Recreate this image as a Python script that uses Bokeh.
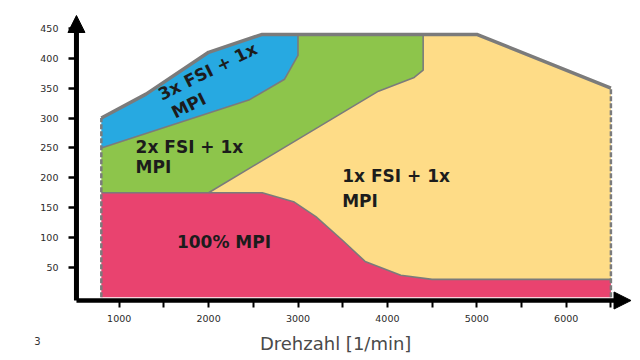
import numpy as np
from bokeh.plotting import figure
from bokeh.models import Range1d, FixedTicker, Arrow, NormalHead, Label
from bokeh.embed import file_html
from bokeh.resources import INLINE

# ---- data (rpm, value) ----
top_rpm = [800, 1300, 2000, 2600, 5000, 6500]       # outer upper limit
top_val = [300, 340, 410, 440, 440, 350]

bb_rpm = [800, 2450, 2850, 3000, 3000]              # blue / green boundary
bb_val = [250, 330, 365, 405, 440]

gy_rpm = [2000, 3900, 4300, 4400, 4400]             # green / yellow boundary
gy_val = [175, 345, 368, 380, 440]

pk_rpm = [800, 2000, 2600, 2950, 3200, 3500, 3750, 4150, 4500, 6500]   # pink upper edge
pk_val = [175, 175, 175, 160, 135, 95, 60, 37, 30, 30]

base_val = 0

y_ticks = [50, 100, 150, 200, 250, 300, 350, 400, 450]
x_ticks = [1000, 1500, 2000, 2500, 3000, 3500, 4000, 4500, 5000, 5500, 6000, 6500]
x_labels = ["1000", "", "2000", "", "3000", "", "4000", "", "5000", "", "6000", ""]

region_names = ["3x FSI + 1x", "2x FSI + 1x", "1x FSI + 1x", "100% MPI"]
region_colors = ["#27A9E1", "#8DC54B", "#FEDC87", "#E9436F"]

x_title = "Drehzahl [1/min]"
page_no = "3"

# ---- polygons built from the boundaries ----
def seg(xs, ys, lo, hi):
    return [(x, y) for x, y in zip(xs, ys) if lo < x < hi]

top = list(zip(top_rpm, top_val))
bb = list(zip(bb_rpm, bb_val))
gy = list(zip(gy_rpm, gy_val))
pk = list(zip(pk_rpm, pk_val))

blue_poly = [t for t in top if t[0] < bb_rpm[-1]] + bb[::-1]
green_poly = bb + seg(top_rpm, top_val, bb_rpm[-1], gy_rpm[-1]) + gy[::-1] + \
    [t for t in pk[::-1] if t[0] < gy_rpm[0]]
yellow_poly = gy + [t for t in top if t[0] > gy_rpm[-1]] + \
    [t for t in pk[::-1] if t[0] >= gy_rpm[0]]
pink_poly = [(pk_rpm[0], base_val)] + pk + [(pk_rpm[-1], base_val)]

# frame covers the whole canvas; axes are pinned inside it
xr0, xr1 = -327.7, 6831
yr0, yr1 = -105.8, 496.7
ax_x = 522      # where the vertical axis sits (rpm)
ax_y = -5.4     # where the horizontal axis sits

p = figure(width=640, height=360, output_backend="svg", toolbar_location=None,
           x_range=Range1d(xr0, xr1), y_range=Range1d(yr0, yr1),
           min_border_left=0, min_border_right=0, min_border_top=0, min_border_bottom=0)
p.outline_line_color = None
p.grid.visible = False
p.background_fill_color = "white"

for poly, col in zip([pink_poly, yellow_poly, green_poly, blue_poly],
                     [region_colors[3], region_colors[2], region_colors[1], region_colors[0]]):
    xs, ys = zip(*poly)
    p.patch(list(xs), list(ys), fill_color=col, line_color=None)

gray = "#7B7B7B"
p.line(bb_rpm, bb_val, line_color=gray, line_width=1.6)
p.line(gy_rpm, gy_val, line_color=gray, line_width=1.6)
p.line(pk_rpm, pk_val, line_color=gray, line_width=1.6)
p.line(top_rpm, top_val, line_color=gray, line_width=3.5)
p.line([top_rpm[0], top_rpm[0]], [base_val, top_val[0]], line_color=gray, line_width=2.5, line_dash="5 2")
p.line([top_rpm[-1], top_rpm[-1]], [base_val, top_val[-1]], line_color=gray, line_width=2.5, line_dash="5 2")

# axes
for ax in (p.xaxis[0], p.yaxis[0]):
    ax.axis_line_color = None
    ax.major_tick_line_color = "black"
    ax.minor_tick_line_color = None
    ax.major_tick_in = 0
    ax.major_label_text_font = "DejaVu Sans"
    ax.major_label_text_font_size = "9.5px"
    ax.major_label_text_color = "#2a2a2a"

p.yaxis.fixed_location = ax_x
p.yaxis.ticker = FixedTicker(ticks=y_ticks)
p.yaxis.major_tick_out = 8
p.yaxis.major_tick_line_width = 2.5
p.yaxis.major_label_standoff = 10

p.xaxis.fixed_location = ax_y
p.xaxis.ticker = FixedTicker(ticks=x_ticks)
p.xaxis.major_label_overrides = {t: l for t, l in zip(x_ticks, x_labels)}
p.xaxis.major_tick_out = 7
p.xaxis.major_tick_line_width = 2
p.xaxis.major_label_standoff = 7

p.add_layout(Arrow(x_start=ax_x, y_start=ax_y, x_end=ax_x, y_end=471.6, line_width=5, line_color="black",
                   end=NormalHead(size=17, fill_color="black", line_color="black")))
p.add_layout(Arrow(x_start=ax_x, y_start=ax_y, x_end=6725, y_end=ax_y, line_width=4.5, line_color="black",
                   end=NormalHead(size=17, fill_color="black", line_color="black")))

# region labels
lab = dict(text_font="DejaVu Sans", text_font_style="bold", text_font_size="17px", text_color="#1c1c1c")
ang = 0.46
p.add_layout(Label(x=1988, y=378, text=region_names[0], angle=ang, text_align="center",
                   text_baseline="middle", **lab))
p.add_layout(Label(x=1777, y=321, text="MPI", angle=ang, text_align="center",
                   text_baseline="middle", **lab))
p.add_layout(Label(x=1183, y=251, text=region_names[1], text_align="left", text_baseline="middle", **lab))
p.add_layout(Label(x=1183, y=218, text="MPI", text_align="left", text_baseline="middle", **lab))
p.add_layout(Label(x=3494, y=203, text=region_names[2], text_align="left", text_baseline="middle", **lab))
p.add_layout(Label(x=3494, y=161, text="MPI", text_align="left", text_baseline="middle", **lab))
p.add_layout(Label(x=2172, y=92, text=region_names[3], text_align="center", text_baseline="middle", **lab))

# axis title and page number
p.add_layout(Label(x=3421, y=-77, text=x_title, text_font="DejaVu Sans", text_font_size="18px",
                   text_color="#4a4a4a", text_align="center", text_baseline="middle"))
p.add_layout(Label(x=86, y=-74, text=page_no, text_font="DejaVu Sans", text_font_size="10px",
                   text_color="#333333", text_align="center", text_baseline="middle"))

open("out.html", "w").write(file_html(p, INLINE))
